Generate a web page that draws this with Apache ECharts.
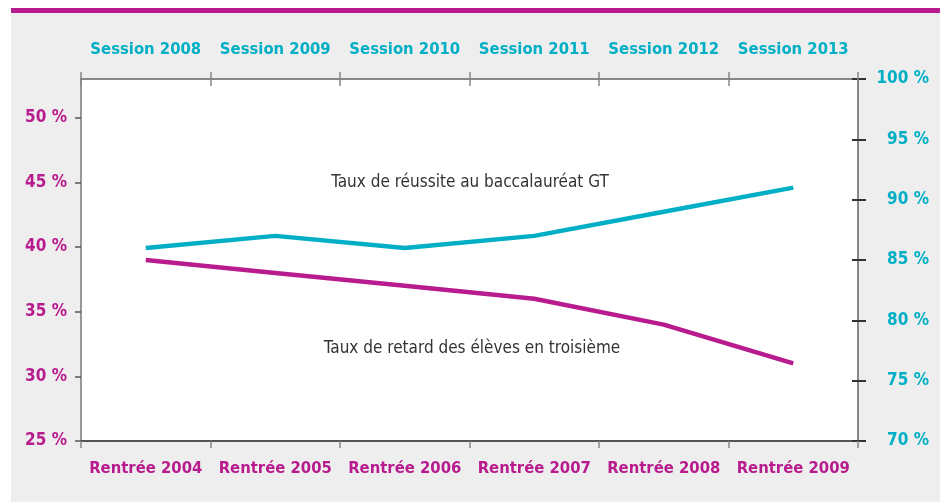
<!DOCTYPE html>
<html>
<head>
<meta charset="utf-8">
<script src="https://cdn.jsdelivr.net/npm/echarts@6/dist/echarts.min.js"></script>
<style>html,body{margin:0;padding:0;background:#fff}#c{width:940px;height:502px}</style>
</head>
<body>
<div id="c"></div>
<script>
const rentreeLabels = ['Rentrée 2004','Rentrée 2005','Rentrée 2006','Rentrée 2007','Rentrée 2008','Rentrée 2009'];
const sessionLabels = ['Session 2008','Session 2009','Session 2010','Session 2011','Session 2012','Session 2013'];
const retardValues = [39, 38, 37, 36, 34, 31];
const reussiteValues = [86, 87, 86, 87, 89, 91];
const leftTicks = [25, 30, 35, 40, 45, 50];
const rightTicks = [70, 75, 80, 85, 90, 95, 100];

const MAG = '#b81b8d', CYA = '#00afc6';
const FONT = "'Liberation Sans Narrow','DejaVu Sans Condensed','Roboto',sans-serif";
const chart = echarts.init(document.getElementById('c'));
const pct = v => v + ' %';
chart.setOption({
  backgroundColor: '#ffffff',
  animation: false,
  graphic: [
    {type:'rect', z:-10, shape:{x:11,y:13,width:929,height:489}, style:{fill:'#eeeeee'}},
    {type:'rect', z:-10, shape:{x:11,y:8,width:929,height:5}, style:{fill:MAG}},
    {type:'text', style:{text:'Taux de réussite au baccalauréat GT', x:470, y:183, fill:'#333', font:"17px 'Liberation Sans Narrow','DejaVu Sans Condensed',sans-serif", align:'center', verticalAlign:'middle'}},
    {type:'text', style:{text:'Taux de retard des élèves en troisième', x:472, y:349, fill:'#333', font:"17px 'Liberation Sans Narrow','DejaVu Sans Condensed',sans-serif", align:'center', verticalAlign:'middle'}}
  ],
  grid: {left:81, right:82, top:79, bottom:61, show:true, backgroundColor:'#ffffff', borderWidth:0},
  xAxis: [
    {type:'category', position:'bottom', data:rentreeLabels,
     axisLine:{lineStyle:{color:'#555', width:2}},
     axisTick:{show:true, length:7, lineStyle:{color:'#888', width:1.5}},
     axisLabel:{interval:0, color:MAG, fontFamily:FONT, fontWeight:'bold', fontSize:16.5, margin:19}},
    {type:'category', position:'top', data:sessionLabels,
     axisLine:{lineStyle:{color:'#666', width:1.5}},
     axisTick:{show:true, length:7, lineStyle:{color:'#888', width:1.5}},
     axisLabel:{interval:0, color:CYA, fontFamily:FONT, fontWeight:'bold', fontSize:16.5, margin:21}},
    {type:'category', position:'top', data:sessionLabels,
     axisLine:{show:false},
     axisTick:{show:true, inside:true, length:7, lineStyle:{color:'#888', width:1.5}},
     axisLabel:{show:false}}
  ],
  yAxis: [
    {type:'value', position:'left', min:25, max:53, interval:5,
     splitLine:{show:false},
     axisLine:{show:true, lineStyle:{color:'#777', width:1.5}},
     axisTick:{show:true, length:6, customValues:leftTicks, lineStyle:{color:'#555', width:1.5}},
     axisLabel:{customValues:leftTicks, formatter:v => (v % 5 === 0 ? pct(v) : ''), color:MAG, fontFamily:FONT, fontWeight:'bold', fontSize:17, margin:14}},
    {type:'value', position:'right', min:70, max:100, interval:5,
     splitLine:{show:false},
     axisLine:{show:true, lineStyle:{color:'#888', width:2}},
     axisTick:{show:true, length:8, lineStyle:{color:'#333', width:2}},
     axisLabel:{formatter:pct, align:'right', color:CYA, fontFamily:FONT, fontWeight:'bold', fontSize:17, margin:71}},
    {type:'value', position:'right', min:70, max:100, interval:5,
     splitLine:{show:false},
     axisLine:{show:false},
     axisTick:{show:true, inside:true, length:6, lineStyle:{color:'#333', width:2}},
     axisLabel:{show:false}}
  ],
  series: [
    {type:'line', name:'Taux de retard des élèves en troisième', xAxisIndex:0, yAxisIndex:0, data:retardValues,
     symbol:'none', lineStyle:{color:MAG, width:4.5}},
    {type:'line', name:'Taux de réussite au baccalauréat GT', xAxisIndex:1, yAxisIndex:1, data:reussiteValues,
     symbol:'none', lineStyle:{color:CYA, width:4.5}}
  ]
});
</script>
</body>
</html>
